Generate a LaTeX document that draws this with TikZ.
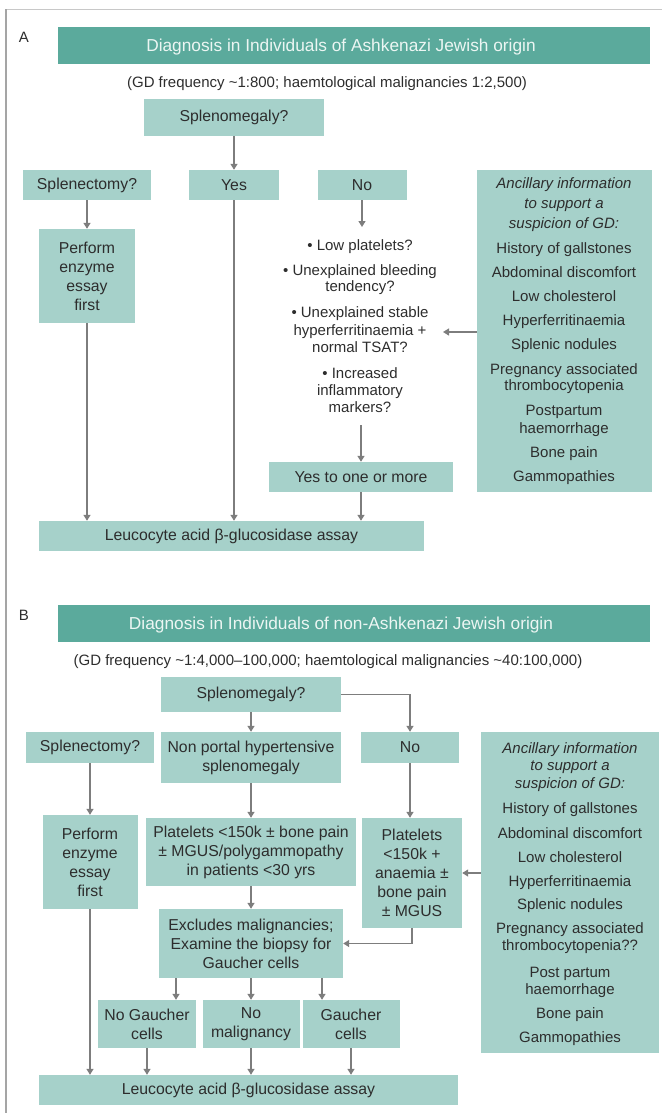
\documentclass[tikz,border=0pt]{standalone}
\usepackage{fontspec}
\setmainfont{Liberation Sans}
\usetikzlibrary{arrows.meta}
\definecolor{tealban}{RGB}{91,170,156}
\definecolor{boxcol}{RGB}{166,209,202}
\definecolor{txtcol}{RGB}{45,45,45}
\definecolor{arrcol}{RGB}{125,125,125}
\definecolor{bordleft}{RGB}{165,165,165}
\definecolor{bordtop}{RGB}{200,200,200}
\definecolor{bantxt}{RGB}{236,246,243}
\newcommand\myboxfont{\fontsize{15.8}{19}\selectfont}
\newcommand\myfreefont{\fontsize{15}{17}\selectfont}
\newcommand\mybanfont{\fontsize{17.3}{20}\selectfont}
\begin{document}
\begin{tikzpicture}[x=1pt,y=-1pt,
  box/.style={fill=boxcol, text=txtcol, font=\myboxfont, align=center, inner sep=0pt},
  banner/.style={fill=tealban, inner sep=0pt},
  bantext/.style={text=bantxt, font=\mybanfont, inner sep=0pt},
  ftxt/.style={text=txtcol, font=\myfreefont, inner sep=0pt, text height=10.7pt, text depth=0pt},
  lab/.style={text=txtcol, font=\fontsize{15}{17}\selectfont, inner sep=0pt},
  arr/.style={draw=arrcol, line width=1.3pt, -{Triangle[width=7pt,length=6pt]}}]
\useasboundingbox (0,0) rectangle (664,1113);
\draw[bordtop, line width=1pt] (5,9.5) -- (662,9.5);
\draw[bordleft, line width=2pt] (6,9.5) -- (6,1113);

% ---------------- Section A ----------------
\node[lab] (labA) at (24,37) {A};
\node[banner, minimum width=592pt, minimum height=37pt] (banA) at (354,45.5) {};
\node[bantext] (banAt) at (341,47) {Diagnosis in Individuals of Ashkenazi Jewish origin};
\node[ftxt] (subA) at (327,82) {(GD frequency \textasciitilde1:800; haemtological malignancies 1:2,500)};

\node[box, minimum width=180pt, minimum height=37pt] (splA) at (234,117.5) {Splenomegaly?};
\node[box, minimum width=128pt, minimum height=30pt] (splectA) at (87,185) {Splenectomy?};
\node[box, minimum width=90pt, minimum height=30pt] (yesA) at (234,185) {Yes};
\node[box, minimum width=89pt, minimum height=30pt] (noA) at (362,185) {No};
\node[box, minimum width=175pt, minimum height=322pt] (ancA) at (564.5,331) {};
\node[box, minimum width=96pt, minimum height=94pt] (performA) at (87,276) {Perform\\enzyme\\essay\\first};
\node[box, minimum width=184pt, minimum height=30pt] (yesoneA) at (361,477) {Yes to one or more};
\node[box, minimum width=385pt, minimum height=30pt] (leucA) at (231.5,536) {Leucocyte acid β-glucosidase assay};

\foreach \yy/\ltxt [count=\i] in {245/{• Low platelets?}, 270/{• Unexplained bleeding}, 286/{tendency?},
  312/{• Unexplained stable}, 330/{hyperferritinaemia +}, 347/{normal TSAT?},
  373/{• Increased}, 390/{inflammatory}, 407/{markers?}}
  \node[ftxt] (bulA-\i) at (360,\yy) {\ltxt};

\foreach \yy/\ltxt [count=\i] in {183/{\itshape Ancillary information}, 203/{\itshape to support a},
  223/{\itshape suspicion of GD:}, 248/{History of gallstones}, 272/{Abdominal discomfort},
  296/{Low cholesterol}, 320/{Hyperferritinaemia}, 344/{Splenic nodules},
  369/{Pregnancy associated}, 385/{thrombocytopenia}, 410/{Postpartum}, 428/{haemorrhage},
  452/{Bone pain}, 476/{Gammopathies}}
  \node[ftxt] (ancA-\i) at (564,\yy) {\ltxt};

\coordinate (bulTop) at (361,227);
\coordinate (bulBot) at (361,425);
\coordinate (bulR) at (443,332);

\draw[arr] (splA.south) -- (yesA.north);
\draw[arr] (splectA.south) -- (performA.north);
\draw[arr] (noA.south) -- (noA.south |- bulTop);
\draw[arr] (ancA.west |- bulR) -- (bulR);
\draw[arr] (bulBot) -- (yesoneA.north);
\draw[arr] (yesoneA.south) -- (yesoneA.south |- leucA.north);
\draw[arr] (performA.south) -- (performA.south |- leucA.north);
\draw[arr] (yesA.south) -- (yesA.south |- leucA.north);

% ---------------- Section B ----------------
\node[lab] (labB) at (24,615) {B};
\node[banner, minimum width=592pt, minimum height=37pt] (banB) at (354,623.5) {};
\node[bantext] (banBt) at (341,625) {Diagnosis in Individuals of non-Ashkenazi Jewish origin};
\node[ftxt] (subB) at (328,660) {(GD frequency \textasciitilde1:4,000–100,000; haemtological malignancies \textasciitilde40:100,000)};

\node[box, minimum width=180pt, minimum height=35pt] (splB) at (251,694.5) {Splenomegaly?};
\node[box, minimum width=128pt, minimum height=31pt] (splectB) at (90,747.5) {Splenectomy?};
\node[box, minimum width=180pt, minimum height=51pt] (nonportal) at (251,757.5) {Non portal hypertensive\\splenomegaly};
\node[box, minimum width=98pt, minimum height=31pt] (noB) at (410,747.5) {No};
\node[box, minimum width=178pt, minimum height=321pt] (ancB) at (570,892.5) {};
\node[box, minimum width=95pt, minimum height=94pt] (performB) at (90,862) {Perform\\enzyme\\essay\\first};
\node[box, minimum width=210pt, minimum height=68pt] (platB) at (251,852) {Platelets <150k ± bone pain\\± MGUS/polygammopathy\\in patients <30 yrs};
\node[box, minimum width=100pt, minimum height=110pt] (plat2B) at (412,873) {Platelets\\<150k +\\anaemia ±\\bone pain\\± MGUS};
\node[box, minimum width=184pt, minimum height=69pt] (exclB) at (251,943.5) {Excludes malignancies;\\Examine the biopsy for\\Gaucher cells};
\node[box, minimum width=98pt, minimum height=48pt] (nogauch) at (147,1024) {No Gaucher\\cells};
\node[box, minimum width=97pt, minimum height=48pt] (nomalig) at (251,1024) {No\\malignancy};
\node[box, minimum width=97pt, minimum height=48pt] (gauch) at (351,1024) {Gaucher\\cells};
\node[box, minimum width=419pt, minimum height=30pt] (leucB) at (248.5,1090) {Leucocyte acid β-glucosidase assay};

\foreach \yy/\ltxt [count=\i] in {748/{\itshape Ancillary information}, 765/{\itshape to support a},
  783/{\itshape suspicion of GD:}, 808/{History of gallstones}, 833/{Abdominal discomfort},
  857/{Low cholesterol}, 881/{Hyperferritinaemia}, 904/{Splenic nodules},
  928/{Pregnancy associated}, 945/{thrombocytopenia??}, 972/{Post partum}, 989/{haemorrhage},
  1013/{Bone pain}, 1037/{Gammopathies}}
  \node[ftxt] (ancB-\i) at (570,\yy) {\ltxt};

\coordinate (g1) at (176,0);
\coordinate (g3) at (322,0);

\draw[arr] (splB.south) -- (nonportal.north);
\draw[arr] (splB.east) -| (noB.north);
\draw[arr] (splectB.south) -- (splectB.south |- performB.north);
\draw[arr] (nonportal.south) -- (platB.north);
\draw[arr] (noB.south) -- (noB.south |- plat2B.north);
\draw[arr] (ancB.west |- plat2B.east) -- (plat2B.east);
\draw[arr] (platB.south) -- (exclB.north);
\draw[arr] (plat2B.south) |- (exclB.east);
\draw[arr] (exclB.south -| g1) -- (nogauch.north -| g1);
\draw[arr] (exclB.south) -- (exclB.south |- nomalig.north);
\draw[arr] (exclB.south -| g3) -- (gauch.north -| g3);
\draw[arr] (performB.south) -- (performB.south |- leucB.north);
\draw[arr] (nogauch.south) -- (nogauch.south |- leucB.north);
\draw[arr] (nomalig.south) -- (nomalig.south |- leucB.north);
\draw[arr] (gauch.south) -- (gauch.south |- leucB.north);
\end{tikzpicture}
\end{document}
